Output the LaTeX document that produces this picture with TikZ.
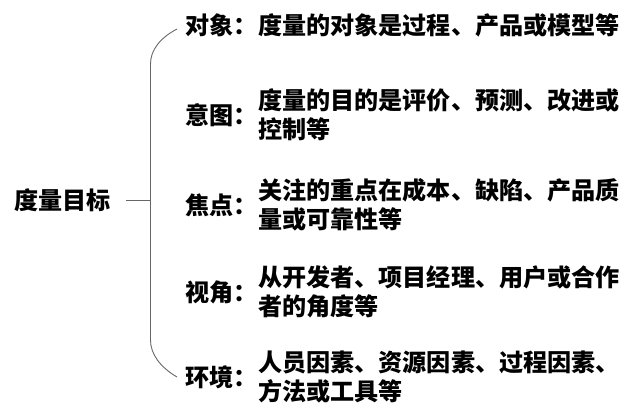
\documentclass[tikz,border=0pt]{standalone}
\usepackage{fontspec}
\newfontfamily\cjk{Noto Sans CJK SC}
\begin{document}
\begin{tikzpicture}[x=1pt,y=-1pt,
  txt/.style={inner sep=0pt, font=\cjk\bfseries\fontsize{24.1}{29}\selectfont, align=left},
  lbl/.style={txt, anchor=east},
  body/.style={txt, anchor=west},
  brace/.style={draw=gray!80!black, line width=0.9pt}]
\useasboundingbox (0,0) rectangle (627,410);
\node[txt, anchor=west] (root) at (14,200) {度量目标};
\node[lbl] (l1) at (258,25) {对象：};
\node[lbl] (l2) at (258,115) {意图：};
\node[lbl] (l3) at (258,205) {焦点：};
\node[lbl] (l4) at (258,292) {视角：};
\node[lbl] (l5) at (258,377) {环境：};
\node[body] (t1) at (258,25) {度量的对象是过程、产品或模型等};
\node[body] (t2) at (258,115) {度量的目的是评价、预测、改进或\\控制等};
\node[body] (t3) at (258,205) {关注的重点在成本、缺陷、产品质\\量或可靠性等};
\node[body] (t4) at (258,292) {从开发者、项目经理、用户或合作\\者的角度等};
\node[body] (t5) at (258,377) {人员因素、资源因素、过程因素、\\方法或工具等};
\coordinate (bm) at (150.5,200);
\coordinate (top) at (177,29);
\coordinate (bot) at (177,377);
\draw[brace] ([xshift=15pt]root.east) -- (bm);
\draw[brace] (top) .. controls (160,38) and (150.5,50) .. (150.5,64) -- (150.5,340) .. controls (150.5,354) and (160,367) .. (bot);
\end{tikzpicture}
\end{document}
